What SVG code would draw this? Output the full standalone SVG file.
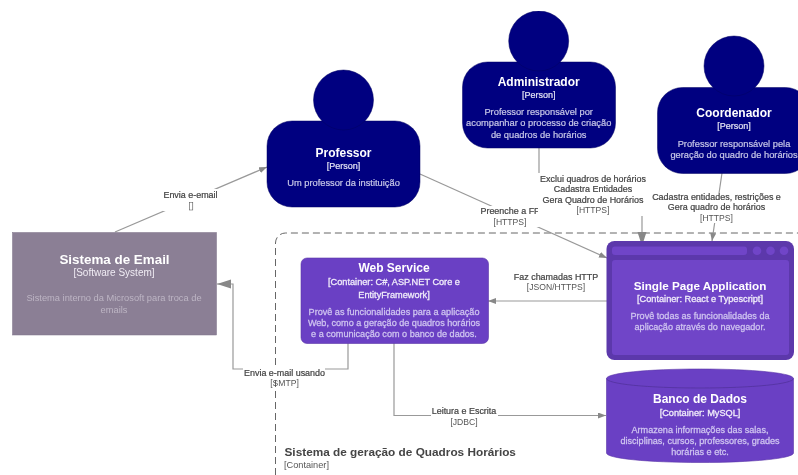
<svg xmlns="http://www.w3.org/2000/svg" width="798" height="475" viewBox="0 0 798 475">
<style>
text{font-family:"Liberation Sans",Arial,sans-serif;text-anchor:middle}
.t{font-weight:bold;fill:#fff;font-size:12px}
.k{fill:#f0ecfa;stroke:#f0ecfa;stroke-width:.3;font-size:9.200px}
.d{fill:#cfc4f0;stroke:#cfc4f0;stroke-width:.28;font-size:9.100px}
.pd{fill:#c8c8e8;font-size:9.300px;stroke:#c8c8e8;stroke-width:.2}
.pk{fill:#e4e4f4;font-size:9px;stroke:#e4e4f4;stroke-width:.2}
.l{fill:#444;stroke:#444;stroke-width:.22;font-size:8.950px}
.s{fill:#555;font-size:8.600px}
.c{fill:none;stroke:#999;stroke-width:1.2}
.navy{fill:#000080;stroke:#000060;stroke-width:.5}
.pu{fill:#6a40c4;stroke:#5a36a8;stroke-width:.6}
.bg{fill:#fff}
</style>
<defs>
<filter id="soft" x="0" y="0" width="100%" height="100%"><feGaussianBlur stdDeviation=".3"/></filter>
<marker id="big" markerWidth="16" markerHeight="10" refX="14" refY="4.5" orient="auto" markerUnits="userSpaceOnUse"><path d="M0 0L14 4.5L0 9Z" fill="#888"/></marker>
<marker id="small" markerWidth="10" markerHeight="8" refX="8" refY="3" orient="auto" markerUnits="userSpaceOnUse"><path d="M0 0L8 3L0 6Z" fill="#888"/></marker>
</defs>
<rect width="798" height="475" fill="#fff"/>
<g filter="url(#soft)">
<g id="boundary">
<path d="M275.500 475V243a10 10 0 0 1 10-10H798" fill="none" stroke="#666" stroke-width="1" stroke-dasharray="7 4"/>
<text x="284.500" y="456" style="text-anchor:start;font-size:11.800px;font-weight:bold;fill:#444">Sistema de geração de Quadros Horários</text>
<text x="284" y="468" style="text-anchor:start;font-size:9.200px;fill:#555">[Container]</text>
</g>
<g id="connectors">
<path class="c" d="M115 232L267 167" marker-end="url(#small)"/>
<path class="c" d="M420 174L607 258" marker-end="url(#small)"/>
<path class="c" d="M539 148V195H642V246" marker-end="url(#big)"/>
<path class="c" d="M722 173L712 241" marker-end="url(#small)"/>
<path class="c" d="M607 301H488" marker-end="url(#small)"/>
<path class="c" d="M348 343V369H233V284H217" marker-end="url(#big)"/>
<path class="c" d="M394 343V415.500H606" marker-end="url(#small)"/>
<rect class="bg" x="163" y="189" width="55" height="22"/>
<text class="l" x="190.500" y="197.500">Envia e-email</text>
<text class="s" x="190.500" y="209" style="font-size:11px">▯</text>
<rect class="bg" x="481" y="206" width="58" height="21"/>
<text class="l" x="510" y="214">Preenche a FF</text>
<text class="s" x="510" y="224.500">[HTTPS]</text>
<rect class="bg" x="538" y="173" width="108" height="43"/>
<text class="l" x="593" y="182">Exclui quadros de horários</text>
<text class="l" x="593" y="192">Cadastra Entidades</text>
<text class="l" x="593" y="202.500">Gera Quadro de Horários</text>
<text class="s" x="593" y="213">[HTTPS]</text>
<rect class="bg" x="650" y="193" width="132" height="30"/>
<text class="l" x="716.500" y="200">Cadastra entidades, restrições e</text>
<text class="l" x="716.500" y="210">Gera quadro de horários</text>
<text class="s" x="716.500" y="220.500">[HTTPS]</text>
<text class="l" x="556" y="279.500">Faz chamadas HTTP</text>
<text class="s" x="556" y="289.500">[JSON/HTTPS]</text>
<rect class="bg" x="243" y="368" width="82" height="9"/>
<text class="l" x="284.500" y="375.500">Envia e-mail usando</text>
<text class="s" x="284.500" y="386">[SMTP]</text>
<rect class="bg" x="431" y="410" width="67" height="10"/>
<text class="l" x="464" y="414">Leitura e Escrita</text>
<text class="s" x="464" y="424.500">[JDBC]</text>
</g>
<g id="email">
<rect x="12.500" y="232.500" width="204" height="102.500" fill="#8b7f95" stroke="#7d7288" stroke-width=".5"/>
<text x="114.500" y="264" style="font-size:13.400px;font-weight:bold;fill:#fff">Sistema de Email</text>
<text x="114" y="276" style="font-size:10px;fill:#f0ecf4">[Software System]</text>
<text x="114" y="301" style="font-size:9.300px;fill:#bdb5c4">Sistema interno da Microsoft para troca de</text>
<text x="114" y="313" style="font-size:9.300px;fill:#bdb5c4">emails</text>
</g>
<g id="professor">
<rect class="navy" x="267" y="121" width="153" height="86" rx="25"/>
<circle class="navy" cx="343.500" cy="100" r="30"/>
<text class="t" x="343.500" y="157">Professor</text>
<text class="pk" x="343.500" y="169">[Person]</text>
<text class="pd" x="343.500" y="186">Um professor da instituição</text>
</g>
<g id="administrador">
<rect class="navy" x="462.500" y="62" width="153" height="86" rx="25"/>
<circle class="navy" cx="538.700" cy="41" r="30"/>
<text class="t" x="538.700" y="86">Administrador</text>
<text class="pk" x="538.700" y="98">[Person]</text>
<text class="pd" x="538.700" y="115">Professor responsável por</text>
<text class="pd" x="538.700" y="126">acompanhar o processo de criação</text>
<text class="pd" x="538.700" y="138">de quadros de horários</text>
</g>
<g id="coordenador">
<rect class="navy" x="657.500" y="87.500" width="153" height="86" rx="25"/>
<circle class="navy" cx="734" cy="66" r="30"/>
<text class="t" x="734" y="117">Coordenador</text>
<text class="pk" x="734" y="129">[Person]</text>
<text class="pd" x="734" y="147">Professor responsável pela</text>
<text class="pd" x="734" y="158">geração do quadro de horários</text>
</g>
<g id="webservice">
<rect class="pu" x="301" y="258" width="187.500" height="85.500" rx="6"/>
<text class="t" x="394" y="272">Web Service</text>
<text class="k" x="394" y="285">[Container: C#, ASP.NET Core e</text>
<text class="k" x="394" y="298">EntityFramework]</text>
<text class="d" x="394" y="315">Provê as funcionalidades para a aplicação</text>
<text class="d" x="394" y="326">Web, como a geração de quadros horários</text>
<text class="d" x="394" y="337">e a comunicação com o banco de dados.</text>
</g>
<g id="spa">
<rect x="606.500" y="241" width="187.500" height="119" rx="8" fill="#5b39ab"/>
<rect x="612" y="246.500" width="135" height="8.500" rx="3" fill="#7045c8"/>
<circle cx="757" cy="250.800" r="4.300" fill="#7045c8"/>
<circle cx="770.500" cy="250.800" r="4.300" fill="#7045c8"/>
<circle cx="784" cy="250.800" r="4.300" fill="#7045c8"/>
<rect x="612" y="260" width="177" height="95" rx="3" fill="#7045c8"/>
<text x="700" y="290" style="font-size:11.700px;font-weight:bold;fill:#fff">Single Page Application</text>
<text class="k" x="700" y="302" style="font-size:9.200px">[Container: React e Typescript]</text>
<text class="d" x="700" y="319">Provê todas as funcionalidades da</text>
<text class="d" x="700" y="330">aplicação através do navegador.</text>
</g>
<g id="banco">
<path class="pu" d="M606.500 378.500C606.500 373 648 369 700 369S793.500 373 793.500 378.500V453C793.500 458.500 752 462.500 700 462.500S606.500 458.500 606.500 453Z"/>
<path d="M606.500 378.500C606.500 384 648 388 700 388S793.500 384 793.500 378.500" fill="none" stroke="#4f2f98" stroke-width=".7"/>
<text class="t" x="700" y="403">Banco de Dados</text>
<text class="k" x="700" y="415.500">[Container: MySQL]</text>
<text class="d" x="700" y="433">Armazena informações das salas,</text>
<text class="d" x="700" y="444">disciplinas, cursos, professores, grades</text>
<text class="d" x="700" y="455">horárias e etc.</text>
</g>
</g>
</svg>
